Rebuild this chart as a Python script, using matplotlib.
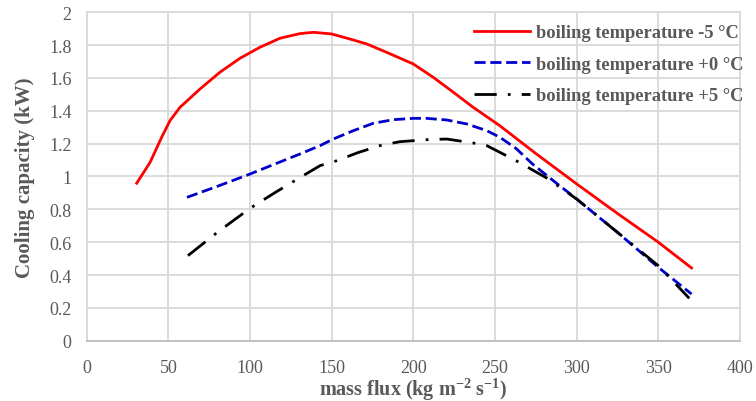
import matplotlib.pyplot as plt

plt.rcParams['font.family'] = 'Liberation Serif'
plt.rcParams['mathtext.fontset'] = 'custom'
plt.rcParams['mathtext.bf'] = 'Liberation Serif:bold'
plt.rcParams['mathtext.rm'] = 'Liberation Serif:bold'

# data
flux_m5 = [30.6, 38.8, 45.9, 51, 57.1, 69.4, 81.6, 93.9, 106.1, 118.4, 130.6, 138.8, 150,
           161.2, 171.5, 183.7, 200, 212.2, 224.5, 236.7, 253, 275, 300, 325, 350, 370.4]
cap_m5 = [0.959, 1.086, 1.239, 1.34, 1.421, 1.533, 1.635, 1.72, 1.787, 1.842, 1.87, 1.878,
          1.868, 1.837, 1.807, 1.756, 1.685, 1.604, 1.513, 1.421, 1.309, 1.14, 0.955, 0.775,
          0.60, 0.443]

flux_p0 = [61.4, 80, 100, 115, 130.6, 142.9, 151, 163.3, 175.5, 187.8, 200, 208.2, 220.5,
           232.7, 245, 253, 263, 273, 285, 300, 325, 350, 370.4]
cap_p0 = [0.873, 0.94, 1.015, 1.075, 1.137, 1.188, 1.228, 1.279, 1.324, 1.346, 1.354, 1.354,
          1.344, 1.32, 1.279, 1.239, 1.17, 1.076, 0.98, 0.863, 0.66, 0.447, 0.284]

flux_p5 = [62, 80, 100, 115, 130, 142.9, 153.1, 166, 179.6, 191.8, 200, 210, 220.5, 236.7,
           245, 253, 263, 282, 300, 325, 350, 369]
cap_p5 = [0.518, 0.66, 0.806, 0.9, 0.99, 1.066, 1.096, 1.145, 1.188, 1.212, 1.218, 1.225,
          1.228, 1.204, 1.188, 1.147, 1.096, 0.989, 0.863, 0.66, 0.457, 0.258]

labels = ['boiling temperature -5 °C', 'boiling temperature +0 °C', 'boiling temperature +5 °C']

gray = '#595959'
grid = '#d9d9d9'

fig = plt.figure(figsize=(7.56, 4.02), dpi=100)
ax = fig.add_axes([0.1147, 0.15, 0.864, 0.817])

ax.plot(flux_m5, cap_m5, color='#ff0000', lw=2.0, label=labels[0])
ax.plot(flux_p0, cap_p0, color='#0000cc', lw=2.0, dashes=(4.0, 1.7), label=labels[1])
ax.plot(flux_p5, cap_p5, color='black', lw=2.0, dashes=(8, 4, 1, 4), label=labels[2])

ax.set_xlim(0, 400)
ax.set_ylim(0, 2)
ax.set_xticks(range(0, 401, 50))
ax.set_yticks([i / 5 for i in range(11)])
ax.set_yticklabels(['0', '0.2', '0.4', '0.6', '0.8', '1', '1.2', '1.4', '1.6', '1.8', '2'])
ax.grid(True, color=grid, lw=1.3)
ax.set_axisbelow(True)
for s in ax.spines.values():
    s.set_color(grid)
    s.set_linewidth(1.3)
ax.spines['bottom'].set_color('#bfbfbf')
ax.tick_params(length=0, labelsize=13, labelcolor=gray)
ax.tick_params(axis='x', pad=13)
ax.tick_params(axis='y', pad=11)

ax.set_xlabel(r'mass flux (kg m$^{\mathbf{-2}}$ s$^{\mathbf{-1}}$)', fontsize=14.5,
              fontweight='bold', color=gray)
ax.set_ylabel('Cooling capacity (kW)', fontsize=15, fontweight='bold', color=gray)
ax.xaxis.set_label_coords(0.5, -0.106)
ax.yaxis.set_label_coords(-0.094, 0.5)
ax.yaxis.label.set_verticalalignment('center')

ax.legend(loc='upper left', bbox_to_anchor=(0.627, 0.937), bbox_transform=fig.transFigure,
          frameon=False, handlelength=3.05, handletextpad=0.3, labelspacing=0.78,
          borderaxespad=0, borderpad=0,
          prop={'family': 'Liberation Serif', 'weight': 'bold', 'size': 13.3},
          labelcolor=gray)

fig.savefig('out.png', dpi=100)
